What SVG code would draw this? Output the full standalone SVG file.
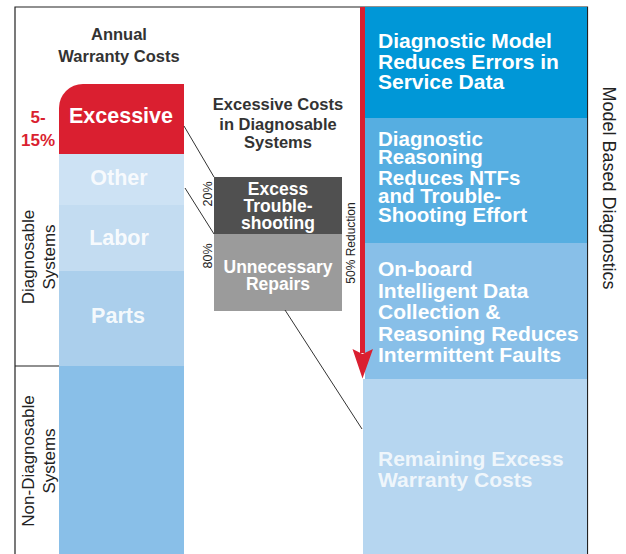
<svg xmlns="http://www.w3.org/2000/svg" width="626" height="554" viewBox="0 0 626 554">
<style>
.h{font-family:"Liberation Sans",Arial,sans-serif;font-size:16.5px;font-weight:bold;fill:#333;text-anchor:middle}
.r{font-family:"Liberation Sans",Arial,sans-serif;font-size:17px;fill:#222;text-anchor:middle}
.big{font-family:"Liberation Sans",Arial,sans-serif;font-size:21.5px;font-weight:bold;fill:#fff;text-anchor:middle}
.mid{font-family:"Liberation Sans",Arial,sans-serif;font-size:17.5px;font-weight:bold;fill:#fff;text-anchor:middle}
.bx{font-family:"Liberation Sans",Arial,sans-serif;font-size:21px;font-weight:bold;fill:#fff}
.bx2{font-family:"Liberation Sans",Arial,sans-serif;font-size:20.5px;font-weight:bold;fill:#fff}
.pc{font-family:"Liberation Sans",Arial,sans-serif;font-size:12.5px;fill:#222;text-anchor:middle}
.fr{stroke:#222;stroke-width:1.2;fill:none}
.cn{stroke:#333;stroke-width:1;fill:none}
</style>
<g id="frame">
<path class="fr" d="M15,554 V7 H587.5 V554"/>
<line class="fr" x1="15" y1="366" x2="59" y2="366"/>
</g>
<g id="annual-title">
<text class="h" x="119" y="40">Annual</text>
<text class="h" x="119" y="62">Warranty Costs</text>
</g>
<g id="excessive">
<path d="M59,154 V108 A24,24 0 0 1 83,84 H184 V154 Z" fill="#DA1F30"/>
<text class="big" x="121" y="123">Excessive</text>
</g>
<g id="pct-5-15">
<text x="38" y="123" font-family="Liberation Sans,Arial,sans-serif" font-size="17" font-weight="bold" fill="#DA1F30" text-anchor="middle">5-</text>
<text x="38" y="146" font-family="Liberation Sans,Arial,sans-serif" font-size="17" font-weight="bold" fill="#DA1F30" text-anchor="middle">15%</text>
</g>
<g id="other">
<rect x="59" y="154" width="125" height="51" fill="#CDE2F4"/>
<text class="big" x="119" y="185" fill-opacity="0.85" style="fill:#fff">Other</text>
</g>
<g id="labor">
<rect x="59" y="205" width="125" height="66" fill="#C3DCF1"/>
<text class="big" x="119" y="245" style="fill:#fff" fill-opacity="0.9">Labor</text>
</g>
<g id="parts">
<rect x="59" y="271" width="125" height="95" fill="#ABCFEC"/>
<text class="big" x="118" y="323" style="fill:#fff" fill-opacity="0.9">Parts</text>
</g>
<g id="non-diag-bar">
<rect x="59" y="366" width="125" height="188" fill="#89BFE8"/>
</g>
<g id="diagnosable-label">
<text class="r" transform="translate(34,257) rotate(-90)">Diagnosable</text>
<text class="r" transform="translate(55,257) rotate(-90)">Systems</text>
</g>
<g id="non-diagnosable-label">
<text class="r" transform="translate(34,461) rotate(-90)">Non-Diagnosable</text>
<text class="r" transform="translate(55,461) rotate(-90)">Systems</text>
</g>
<g id="excess-title">
<text class="h" x="278" y="110">Excessive Costs</text>
<text class="h" x="278" y="130">in Diagnosable</text>
<text class="h" x="278" y="148">Systems</text>
</g>
<g id="excess-troubleshooting">
<rect x="214" y="177" width="128" height="57" fill="#505050"/>
<text class="mid" x="278" y="195">Excess</text>
<text class="mid" x="278" y="212">Trouble-</text>
<text class="mid" x="278" y="228.5">shooting</text>
<text class="pc" transform="translate(211.5,194) rotate(-90)">20%</text>
</g>
<g id="unnecessary-repairs">
<rect x="214" y="234" width="128" height="77" fill="#9B9B9B"/>
<text class="mid" x="278" y="273">Unnecessary</text>
<text class="mid" x="278" y="290">Repairs</text>
<text class="pc" transform="translate(211.5,256) rotate(-90)">80%</text>
</g>
<g id="connectors">
<line class="cn" x1="184" y1="126" x2="214" y2="177"/>
<line class="cn" x1="185" y1="188" x2="214" y2="234"/>
<line class="cn" x1="285" y1="310" x2="362" y2="429"/>
</g>
<g id="box1">
<rect x="365" y="7" width="222" height="111" fill="#0097D7"/>
<text class="bx" x="378" y="48">Diagnostic Model</text>
<text class="bx" x="378" y="69">Reduces Errors in</text>
<text class="bx" x="378" y="89">Service Data</text>
</g>
<g id="box2">
<rect x="365" y="118" width="222" height="125" fill="#56AEE1"/>
<text class="bx2" x="378" y="146">Diagnostic</text>
<text class="bx2" x="378" y="164">Reasoning</text>
<text class="bx2" x="378" y="185">Reduces NTFs</text>
<text class="bx2" x="378" y="203">and Trouble-</text>
<text class="bx2" x="378" y="222">Shooting Effort</text>
</g>
<g id="box3">
<rect x="365" y="243" width="222" height="136" fill="#88BFE8"/>
<text class="bx" x="378" y="276">On-board</text>
<text class="bx" x="378" y="298">Intelligent Data</text>
<text class="bx" x="378" y="319">Collection &amp;</text>
<text class="bx" x="378" y="341">Reasoning Reduces</text>
<text class="bx" x="378" y="362">Intermittent Faults</text>
</g>
<g id="box4">
<rect x="363" y="379" width="224" height="175" fill="#B6D6F0"/>
<text class="bx" x="378" y="466" fill-opacity="0.8" style="fill:#fff">Remaining Excess</text>
<text class="bx" x="378" y="487" fill-opacity="0.8" style="fill:#fff">Warranty Costs</text>
</g>
<g id="reduction-arrow">
<rect x="360" y="7" width="5" height="346" fill="#DA1F30"/>
<path d="M352.5,349 L362.5,354 L373,349 L362.5,378.5 Z" fill="#DA1F30"/>
<text class="pc" transform="translate(355,243) rotate(-90)" style="font-size:12px">50% Reduction</text>
</g>
<g id="mbd-label">
<text class="r" transform="translate(603,188) rotate(90)" style="font-size:18px">Model Based Diagnostics</text>
</g>
</svg>
